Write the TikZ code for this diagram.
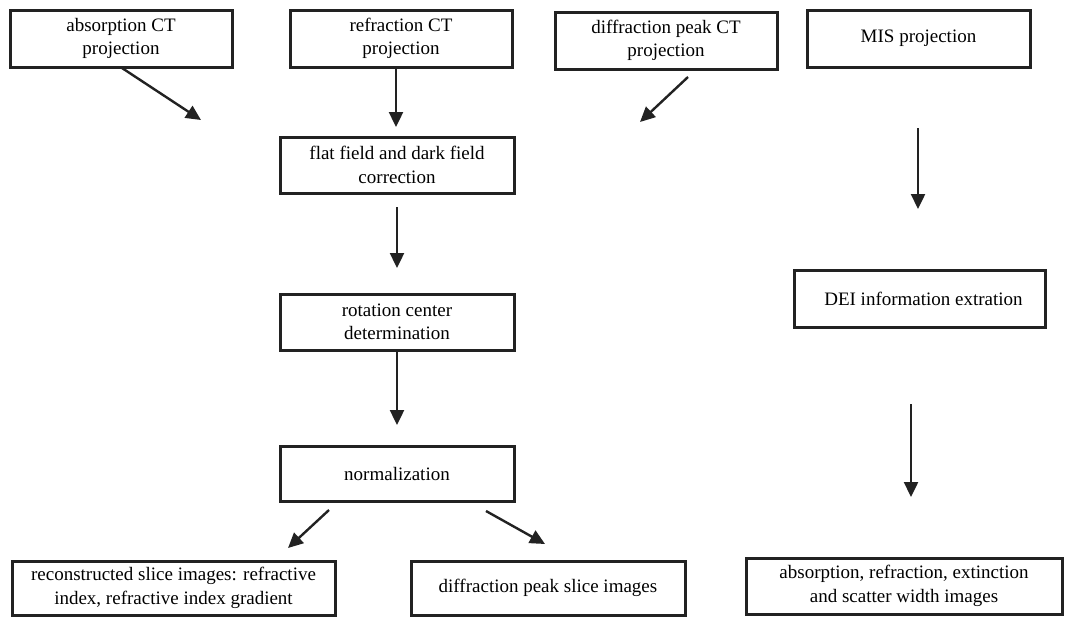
\documentclass[tikz,border=0pt]{standalone}
\usepackage{fontspec}
\setmainfont{Liberation Serif}
\usetikzlibrary{arrows.meta}
\definecolor{ink}{HTML}{222222}
\begin{document}
\begin{tikzpicture}[x=1pt,y=-1pt,
  box/.style={draw=ink,line width=3pt,fill=white,inner sep=0pt,
    align=center,font=\fontsize{19}{23.5}\selectfont,text=black},
  flow/.style={draw=ink,line width=2.4pt,-{Triangle[length=15pt,width=14pt]}}]
\useasboundingbox (0,0) rectangle (1067,616);

% source projections
\node[box,minimum width=222pt,minimum height=57pt] (abs)  at (121,38.5) {absorption CT\\projection};
\node[box,minimum width=222pt,minimum height=57pt] (refr) at (401,38.5) {refraction CT\\projection};
\node[box,minimum width=222pt,minimum height=57pt] (diff) at (666,40.5) {diffraction peak CT\\projection};
\node[box,minimum width=223pt,minimum height=57pt] (mis)  at (918.5,38.5) {MIS projection};

% CT processing chain
\node[box,minimum width=234pt,minimum height=56pt] (flat) at (397,165) {flat field and dark field\\correction};
\node[box,minimum width=234pt,minimum height=56pt] (rot)  at (397,322) {rotation center\\determination};
\node[box,minimum width=234pt,minimum height=55pt] (norm) at (397,474) {normalization};

% DEI chain
\node[box,minimum width=251pt,minimum height=57pt] (dei) at (919.5,298.5) {\hspace*{8pt}DEI information extration};

% results
\node[box,minimum width=323pt,minimum height=54pt] (recon)  at (173.5,588) {reconstructed slice images: refractive\\index, refractive index gradient};
\node[box,minimum width=274pt,minimum height=54pt] (dslice) at (548,588) {diffraction peak slice images};
\node[box,minimum width=316pt,minimum height=56pt] (final)  at (904,586) {absorption, refraction, extinction\\and scatter width images};

% free arrow ends
\coordinate (a1s) at (122,68);   \coordinate (a1e) at (201,120);
\coordinate (a2s) at (396,68);   \coordinate (a2e) at (396,127);
\coordinate (a3s) at (688,77);   \coordinate (a3e) at (640,122);
\coordinate (a4s) at (918,128);  \coordinate (a4e) at (918,209);
\coordinate (b1s) at (397,207);  \coordinate (b1e) at (397,268);
\coordinate (b2s) at (397,350);  \coordinate (b2e) at (397,425);
\coordinate (c1s) at (329,510);  \coordinate (c1e) at (288,548);
\coordinate (c2s) at (486,511);  \coordinate (c2e) at (545,544);
\coordinate (d1s) at (911,404);  \coordinate (d1e) at (911,497);

\draw[flow] (a1s) -- (a1e);
\draw[flow] (a2s) -- (a2e);
\draw[flow] (a3s) -- (a3e);
\draw[flow] (a4s) -- (a4e);
\draw[flow] (b1s) -- (b1e);
\draw[flow] (b2s) -- (b2e);
\draw[flow] (c1s) -- (c1e);
\draw[flow] (c2s) -- (c2e);
\draw[flow] (d1s) -- (d1e);
\end{tikzpicture}
\end{document}
